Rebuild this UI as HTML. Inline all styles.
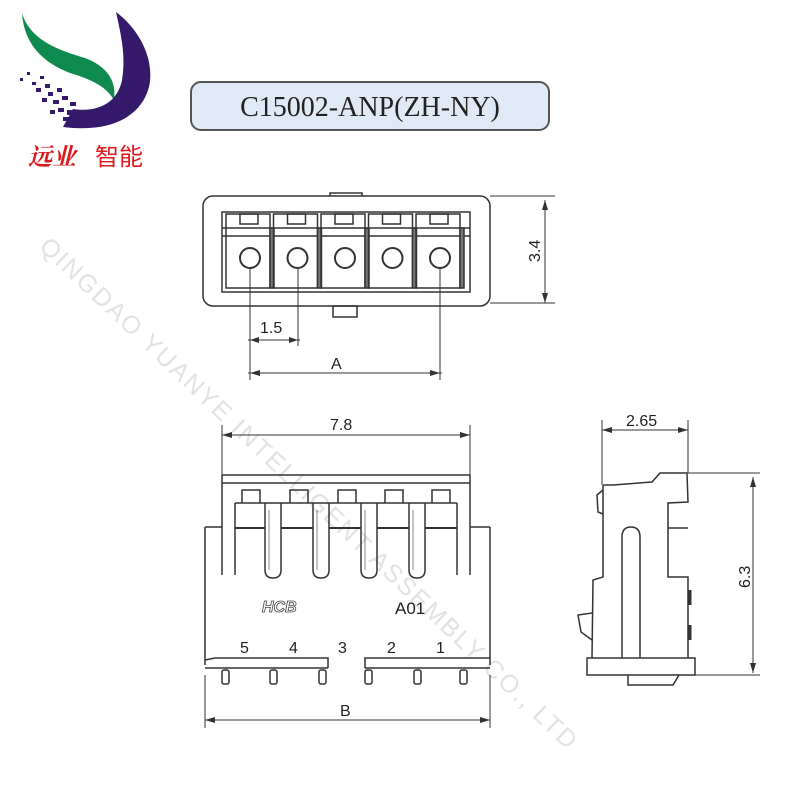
<!DOCTYPE html>
<html><head><meta charset="utf-8"><style>
html,body{margin:0;padding:0;background:#fff;}
svg{display:block}
</style></head><body>
<svg width="800" height="800" viewBox="0 0 800 800" xmlns="http://www.w3.org/2000/svg" font-family="Liberation Sans, sans-serif">
<rect width="800" height="800" fill="#fff"/>
<text x="0" y="0" transform="translate(38,248) rotate(43.5)" font-size="25" fill="#e2e2e2" letter-spacing="2">QINGDAO YUANYE INTELLIGENT ASSEMBLY CO., LTD</text>
<!-- logo -->
<path d="M22,13 C30,40 58,50 85,58 C106,66 117,80 114,100 C106,86 90,79 70,73 C44,63 24,45 22,13Z" fill="#0e8a4e"/>
<path d="M116,12 C140,30 155,60 149,87 C141,117 110,133 63,127 L73,109 C100,113 118,101 122,80 C126,55 121,35 116,12Z" fill="#35196a"/>
<g fill="#35196a">
<rect x="20" y="78" width="3" height="3"/><rect x="27" y="72" width="3" height="3"/><rect x="32" y="82" width="4" height="3"/><rect x="40" y="76" width="4" height="3"/>
<rect x="36" y="88" width="5" height="4"/><rect x="45" y="84" width="5" height="4"/><rect x="48" y="92" width="5" height="4"/><rect x="57" y="88" width="5" height="4"/>
<rect x="42" y="98" width="5" height="4"/><rect x="53" y="100" width="6" height="4"/><rect x="62" y="96" width="6" height="4"/><rect x="70" y="102" width="6" height="4"/>
<rect x="58" y="108" width="6" height="4"/><rect x="67" y="110" width="6" height="5"/><rect x="50" y="110" width="5" height="4"/><rect x="63" y="117" width="6" height="4"/>
</g>
<text x="28" y="165" font-size="24" fill="#e0191e" font-family="Noto Serif CJK SC, serif" font-weight="bold" font-style="italic">远业</text>
<text x="95" y="165" font-size="24" fill="#e0191e" font-family="Noto Sans CJK SC, sans-serif">智能</text>
<!-- title -->
<rect x="191" y="82" width="358" height="48" rx="10" fill="#dfeaf6" stroke="#555" stroke-width="2"/>
<text x="370" y="116" text-anchor="middle" font-size="28" font-family="Liberation Serif, serif" fill="#222">C15002-ANP(ZH-NY)</text>
<g stroke="#333" fill="none" stroke-width="1.5">
<!-- top view -->
<rect x="330" y="193" width="32" height="6" fill="#fff"/>
<rect x="203" y="196" width="287" height="110" rx="10" fill="#fff"/>
<rect x="333" y="306" width="24" height="11"/>
<rect x="222" y="212" width="248" height="80"/>
<path d="M222,228 H470 M222,236 H470"/>
<g id="cell">
<rect x="226" y="214" width="44" height="74"/>
<rect x="240" y="214" width="18" height="10"/>
<circle cx="250" cy="258" r="10" stroke-width="2"/>
<rect x="270" y="228" width="4" height="60" fill="#777"/>
</g>
<use href="#cell" x="47.5"/><use href="#cell" x="95"/><use href="#cell" x="142.5"/><use href="#cell" x="190"/>
<path d="M250,268 V380 M298,268 V346 M440,268 V380 M248,340 H300 M248,373 H442 M490,196 H555 M490,303 H555 M545,200 V303" stroke-width="1"/>
<!-- front view -->
<path d="M222,425 V485 M470,425 V485 M222,435 H470" stroke-width="1"/>
<path d="M222,475 H470 M222,483 H470 M222,475 V575 M470,475 V575"/>
<path d="M235,503 V575 M457,503 V575"/>
<path d="M205,527 H222 M470,527 H490 M205,527 V665 M490,527 V665"/>
<!-- tabs -->
<g id="tab"><path d="M242,503 V490 H260 V503"/></g>
<use href="#tab" x="48"/><use href="#tab" x="96"/><use href="#tab" x="143"/><use href="#tab" x="190"/>
<path d="M235,503 H457"/>
<!-- U pins -->
<g id="pin"><path d="M265,503 V570 Q265,578 273,578 Q281,578 281,570 V503"/><path d="M269,510 V570" stroke-width="0.6"/></g>
<use href="#pin" x="48"/><use href="#pin" x="96"/><use href="#pin" x="144"/>
<path d="M235,528 H265 M281,528 H313 M329,528 H361 M377,528 H409 M425,528 H457" stroke-width="2"/>
<path d="M205,660 L215,658 H328 V668 M365,668 V658 H490"/>
<path d="M205,668 H328 M365,668 H490"/>
<g id="stub"><rect x="222" y="670" width="7" height="14" rx="2"/></g>
<use href="#stub" x="48"/><use href="#stub" x="97"/><use href="#stub" x="143"/><use href="#stub" x="192"/><use href="#stub" x="238"/>
<path d="M205,675 V728 M490,675 V728 M205,720 H490" stroke-width="1"/>
<!-- side view -->
<path d="M602,420 V485 M688,420 V473 M602,430 H688 M688,473 H760 M695,675 H760 M753,477 V673" stroke-width="1"/>
<path d="M603,485 L613,485 L652,482 L660,473 L687,473 L688,502 L668,503 L668,577 L688,577 L688,658"/>
<path d="M603,485 L603,577 L593,580 L592,658"/>
<path d="M603,490 L597,495 L598,512 L603,514"/>
<path d="M592,613 L578,615 L581,632 L592,640"/>
<path d="M622,658 V537 Q622,527 631,527 Q640,527 640,537 V658"/>
<path d="M668,528 H688"/>
<rect x="587" y="658" width="108" height="17" fill="#fff"/>
<path d="M628,675 V685 H673 L679,675"/>
<path d="M690,590 V605 M690,625 V640" stroke-width="3"/>
</g>
<g fill="#333">
<path d="M250,340 l9,-3 v6z M298,340 l-9,-3 v6z"/>
<path d="M250,373 l10,-3 v6z M440,373 l-10,-3 v6z"/>
<path d="M545,200 l-3,10 h6z M545,303 l-3,-10 h6z"/>
<path d="M222,435 l10,-3 v6z M470,435 l-10,-3 v6z"/>
<path d="M205,720 l10,-3 v6z M490,720 l-10,-3 v6z"/>
<path d="M602,430 l10,-3 v6z M688,430 l-10,-3 v6z"/>
<path d="M753,477 l-3,10 h6z M753,673 l-3,-10 h6z"/>
</g>
<g fill="#222" font-size="16">
<text x="260" y="333">1.5</text>
<text x="331" y="369">A</text>
<text transform="translate(540,262) rotate(-90)">3.4</text>
<text x="330" y="430">7.8</text>
<text x="340" y="716">B</text>
<text x="626" y="426">2.65</text>
<text transform="translate(750,588) rotate(-90)">6.3</text>
<text x="240" y="653">5</text><text x="289" y="653">4</text><text x="338" y="653">3</text><text x="387" y="653">2</text><text x="436" y="653">1</text>
<text x="395" y="614" font-size="17">A01</text>
</g>
<text x="262" y="612" font-size="16" font-style="italic" font-weight="bold" fill="#fff" stroke="#444" stroke-width="0.8">HCB</text>
</svg>
</body></html>
